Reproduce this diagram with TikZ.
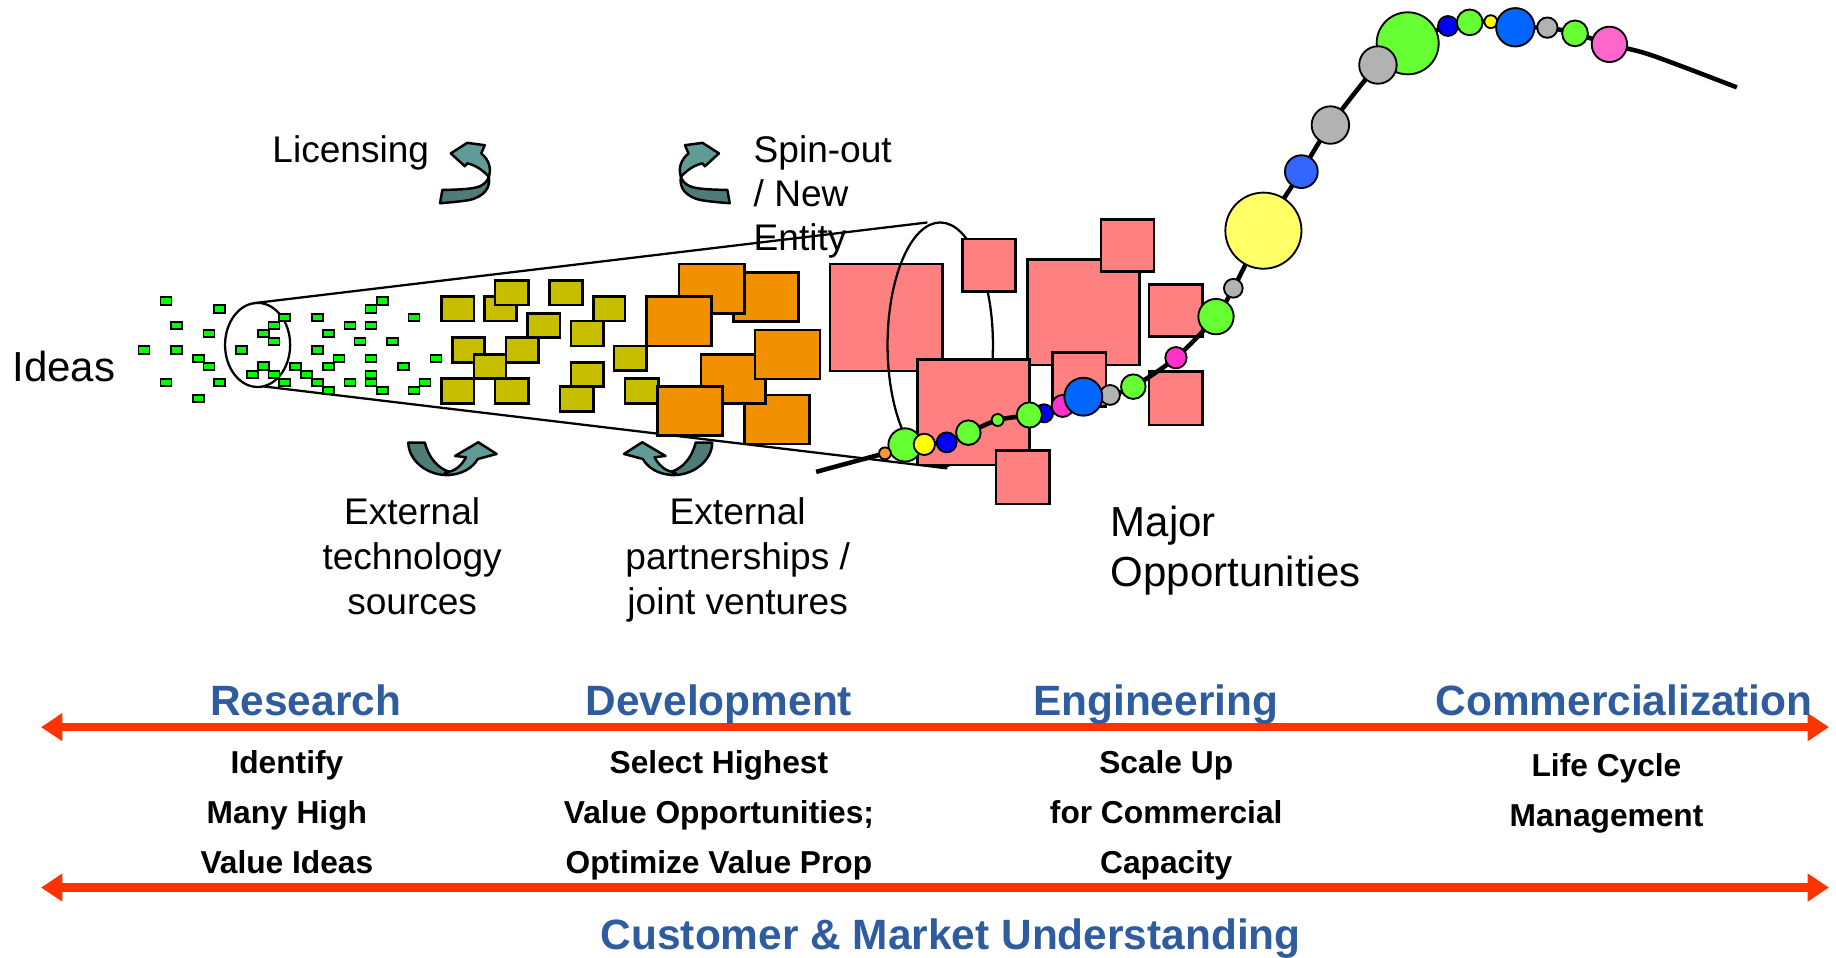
\documentclass[tikz,border=0pt]{standalone}
\usepackage{fontspec}
\setmainfont{Liberation Sans}
\usetikzlibrary{arrows.meta}
\definecolor{sqgreen}{RGB}{0,255,0}
\definecolor{cOlive}{RGB}{200,190,0}
\definecolor{cOrange}{RGB}{242,145,0}
\definecolor{cPinkSq}{RGB}{255,128,128}
\definecolor{cG}{RGB}{102,255,51}
\definecolor{cY}{RGB}{255,255,0}
\definecolor{cYb}{RGB}{255,255,102}
\definecolor{cB}{RGB}{0,0,255}
\definecolor{cBtwo}{RGB}{0,102,255}
\definecolor{cBthree}{RGB}{51,102,255}
\definecolor{cGr}{RGB}{178,178,178}
\definecolor{cM}{RGB}{255,51,204}
\definecolor{cPk}{RGB}{255,102,204}
\definecolor{cOr}{RGB}{255,153,51}
\definecolor{tealLight}{RGB}{96,155,151}
\definecolor{tealDark}{RGB}{78,125,121}
\definecolor{phaseblue}{RGB}{46,92,158}
\definecolor{arrowred}{RGB}{255,51,0}
\begin{document}
\begin{tikzpicture}[x=0.01cm, y=-0.01cm,
  gsq/.style={draw=black, fill=sqgreen, line width=0.45pt},
  osq/.style={draw=black, fill=cOlive, line width=0.6pt},
  orsq/.style={draw=black, fill=cOrange, line width=0.6pt},
  pksq/.style={draw=black, fill=cPinkSq, line width=0.65pt},
  ball/.style={draw=black, line width=0.45pt},
  cone/.style={draw=black, line width=0.55pt},
  tealL/.style={fill=tealLight, draw=black, line width=0.6pt, line join=round},
  tealD/.style={fill=tealDark, draw=black, line width=0.6pt, line join=round},
  lab/.style={font=\fontsize{9}{10.7}\selectfont, inner sep=0pt},
  labw/.style={font=\fontsize{9}{11}\selectfont, inner sep=0pt},
  bigl/.style={font=\fontsize{10.2}{12.2}\selectfont, inner sep=0pt},
  phase/.style={font=\fontsize{10.3}{12}\selectfont\bfseries, text=phaseblue, inner sep=0pt},
  task/.style={font=\fontsize{7.7}{12.1}\selectfont\bfseries, inner sep=0pt},
  redarrow/.style={draw=arrowred, line width=2pt, {Triangle[length=5.2pt,width=6.5pt]}-{Triangle[length=5.2pt,width=6.5pt]}}
]
\useasboundingbox (0,0) rectangle (1568,818);

% cone
\draw[cone] (220,294.6) ellipse[x radius=27.8, y radius=35.9];
\coordinate (ct1) at (216,259); \coordinate (ct2) at (792,190);
\coordinate (cb1) at (225,330); \coordinate (cb2) at (809,400);
\draw[cone] (ct1) -- (ct2);
\draw[cone] (cb1) -- (cb2);

% green idea squares
\foreach \x/\y in {141.8/257.1, 187.3/263.9, 150.9/277.8, 178.5/284.7, 123.0/298.9, 150.9/298.9,
  169.4/306.0, 178.5/313.2, 141.8/326.8, 187.3/326.8, 169.4/340.5, 206.4/298.9, 224.9/284.7,
  234.0/277.8, 242.8/271.0, 234.0/291.8, 224.9/312.6, 215.5/319.7, 234.0/319.7, 242.8/326.8,
  252.5/313.2, 261.9/319.7, 271.0/326.8, 280.4/333.6, 280.4/313.2, 289.5/306.0, 271.0/271.0,
  280.4/284.7, 271.0/298.9, 298.9/277.8, 307.5/291.8, 316.9/277.8, 316.9/263.9, 326.5/257.1,
  353.6/271.0, 335.4/291.8, 316.9/306.0, 316.9/319.7, 316.9/326.8, 326.5/333.6, 298.9/326.8,
  344.5/313.2, 372.4/306.0, 363.0/326.8, 353.6/333.6}
  {\draw[gsq] (\x-4.7,\y-3.1) rectangle (\x+4.7,\y+3.1);}

% olive squares
\foreach \a/\b/\c/\d in {377.2/253.4/404.8/274.1, 413.6/253.4/441.3/274.1, 422.8/239.7/451.2/260.5,
  469.2/239.7/497.3/260.5, 506.7/253.4/533.8/274.1, 450.7/267.6/478.3/288.4, 487.7/274.1/515.3/295.5,
  386.3/288.4/413.6/309.4, 432.1/288.4/459.8/309.4, 404.8/302.6/432.1/323.1, 377.2/323.1/404.8/344.5,
  422.8/323.1/451.2/344.5, 487.7/309.4/515.3/330.2, 478.3/330.2/506.7/351.6, 524.4/295.5/552.3/316.6,
  533.8/323.1/562.2/344.5}
  {\draw[osq] (\a,\b) rectangle (\c,\d);}

% orange squares
\foreach \a/\b/\c/\d in {626.3/232.9/681.8/274.7, 579.9/225.5/635.7/267.6, 552.3/253.4/607.8/295.5,
  635.7/337.3/691.2/379.2, 598.7/302.6/653.9/344.5, 644.8/281.8/700.3/323.7, 561.7/330.2/617.2/372.1}
  {\draw[orsq] (\a,\b) rectangle (\c,\d);}

% pink squares and big ellipse
\draw[pksq] (708.8,225.5) rectangle (805.1,316.8);
\draw[cone] (803,294.5) ellipse[x radius=45, y radius=104.5];
\foreach \a/\b/\c/\d in {822.1/204.1/867.4/249.1, 877.4/221.5/973.0/311.7, 940.3/187.3/985.6/232.0,
  898.7/300.9/944.6/347.3, 981.3/242.8/1026.8/287.5, 981.3/317.4/1026.8/363.0,
  783.7/306.9/879.1/397.1, 850.6/384.9/896.2/430.4}
  {\draw[pksq] (\a,\b) rectangle (\c,\d);}

% growth curve
\draw[line width=1.1pt] plot[smooth, tension=0.5] coordinates {(697,403) (755.8,387.2) (789.4,379.5)
  (808.5,377.8) (827,369.5) (852,358.7) (879,354.4) (907.5,346.7) (925.2,338.8) (948,337.3)
  (967.9,330.2) (1004.3,305.5) (1038.5,270.4) (1053.3,246.2) (1079,197) (1111.4,146.6)
  (1136.2,106.8) (1176.8,55.5) (1202.2,37) (1236.6,22.2) (1255.2,19.1) (1273.2,18.5)
  (1294.1,23.3) (1321.5,23.6) (1345.1,28.5) (1374.5,37.9) (1410,47) (1483.3,74.6)};

% balls
\foreach \x/\y/\r/\c in {772.9/380.0/14.2/cG, 755.8/387.2/5.1/cOr, 789.4/379.5/9.1/cY,
  808.5/377.8/8.5/cB, 827.0/369.5/10.5/cG, 852.0/358.7/5.1/cG, 891.6/353.0/7.7/cB,
  879.1/354.4/10.8/cG, 907.5/346.7/9.4/cM, 948.0/337.3/8.5/cGr, 925.2/338.8/16.2/cBtwo,
  967.9/330.2/10.5/cG, 1004.3/305.5/9.1/cM, 1038.5/270.4/15.1/cG, 1053.3/246.2/8.0/cGr,
  1079/197/32.5/cYb, 1111.4/146.6/14/cBthree, 1136.2/106.8/16/cGr, 1202.2/37/26.5/cG,
  1176.8/55.5/16/cGr, 1236.6/22.2/8.5/cB, 1255.2/19.1/11/cG, 1273.2/18.5/5.5/cY,
  1294.1/23.3/16.4/cBtwo, 1321.5/23.6/8.7/cGr, 1345.1/28.5/11/cG, 1374.5/37.9/15.1/cPk}
  {\draw[ball, fill=\c] (\x,\y) circle[radius=\r];}

% curved arrows: licensing
\path[tealL] (417.5,151) .. controls (420,143) and (417,136) .. (411,131) -- (414,124) -- (399,122)
  -- (385,131) -- (397,142) -- (399,139.5) .. controls (406,141) and (412,145) .. (417.5,151) -- cycle;
\path[tealD] (375.8,173.6) -- (377.8,162.2) .. controls (392,162) and (404,161.5) .. (410,159)
  .. controls (414,157) and (416,155) .. (417.5,151) .. controls (419,160) and (414,168) .. (400,171)
  .. controls (390,172.5) and (382,173) .. (375.8,173.6) -- cycle;
% spin-out (mirror)
\begin{scope}[shift={(999,0)}, xscale=-1]
\path[tealL] (417.5,151) .. controls (420,143) and (417,136) .. (411,131) -- (414,124) -- (399,122)
  -- (385,131) -- (397,142) -- (399,139.5) .. controls (406,141) and (412,145) .. (417.5,151) -- cycle;
\path[tealD] (375.8,173.6) -- (377.8,162.2) .. controls (392,162) and (404,161.5) .. (410,159)
  .. controls (414,157) and (416,155) .. (417.5,151) .. controls (419,160) and (414,168) .. (400,171)
  .. controls (390,172.5) and (382,173) .. (375.8,173.6) -- cycle;
\end{scope}
% external technology
\path[tealD] (348.7,378) -- (362.9,378) .. controls (366,391) and (374,400) .. (384,403) -- (384.3,405.6)
  .. controls (366,407) and (349,394) .. (348.7,378) -- cycle;
\path[tealL] (380,405.6) .. controls (395,406) and (404,399) .. (408,392) -- (424.1,387.7) -- (408.5,377.7)
  -- (388.6,389.4) -- (398,390.5) .. controls (394,398) and (388,403) .. (380,403.5) -- cycle;
% external partnerships (mirror)
\begin{scope}[shift={(957,0)}, xscale=-1]
\path[tealD] (348.7,378) -- (362.9,378) .. controls (366,391) and (374,400) .. (384,403) -- (384.3,405.6)
  .. controls (366,407) and (349,394) .. (348.7,378) -- cycle;
\path[tealL] (380,405.6) .. controls (395,406) and (404,399) .. (408,392) -- (424.1,387.7) -- (408.5,377.7)
  -- (388.6,389.4) -- (398,390.5) .. controls (394,398) and (388,403) .. (380,403.5) -- cycle;
\end{scope}

% labels (anchor=base is the baseline of the last line)
\node[lab, anchor=base west] (lic) at (232,139) {Licensing};
\node[lab, anchor=base west, align=left] (spin) at (643,214) {Spin-out\\/ New\\Entity};
\node[bigl, anchor=base west] (ideas) at (10,326) {Ideas};
\node[labw, anchor=base, align=center] (ext) at (352,525) {External\\technology\\sources};
\node[labw, anchor=base, align=center] (part) at (630,525) {External\\partnerships /\\joint ventures};
\node[bigl, anchor=base west, align=left] (major) at (948,501) {Major\\Opportunities};

% phases
\coordinate (r1a) at (35,621); \coordinate (r1b) at (1562,621);
\coordinate (r2a) at (35,758); \coordinate (r2b) at (1562,758);
\draw[redarrow] (r1a) -- (r1b);
\draw[redarrow] (r2a) -- (r2b);
\node[phase, anchor=base] (res) at (261,611) {Research};
\node[phase, anchor=base] (dev) at (614,611) {Development};
\node[phase, anchor=base] (eng) at (987,611) {Engineering};
\node[phase, anchor=base] (com) at (1387,611) {Commercialization};
\node[task, anchor=base, align=center] (t1) at (245,746) {Identify\\Many High\\Value Ideas};
\node[task, anchor=base, align=center] (t2) at (614,746) {Select Highest\\Value Opportunities;\\Optimize Value Prop};
\node[task, anchor=base, align=center] (t3) at (996,746) {Scale Up\\for Commercial\\Capacity};
\node[task, anchor=base, align=center] (t4) at (1372,705.5) {Life Cycle\\Management};
\node[phase, anchor=base] (cmu) at (812,811) {Customer \& Market Understanding};
\end{tikzpicture}
\end{document}
